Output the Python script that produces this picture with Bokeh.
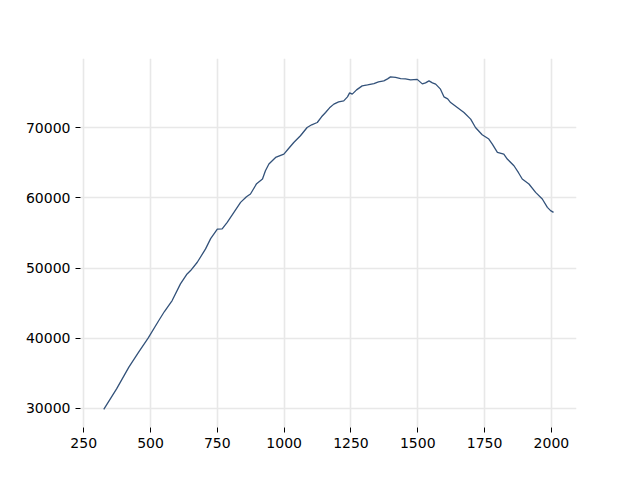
from bokeh.plotting import figure
from bokeh.models import Range1d, FixedTicker
from bokeh.embed import file_html
from bokeh.resources import INLINE

x_vals = [325, 373, 419, 455, 491, 531, 552, 581, 612, 635, 650, 675, 706, 725, 750, 768, 787,
          812, 837, 859, 874, 897, 919, 930, 943, 968, 999, 1016, 1036, 1061, 1086, 1103, 1124,
          1140, 1155, 1170, 1186, 1204, 1223, 1237, 1245, 1255, 1271, 1292, 1312, 1336, 1353,
          1373, 1387, 1398, 1417, 1436, 1454, 1473, 1498, 1517, 1529, 1542, 1555, 1567, 1585,
          1598, 1612, 1623, 1648, 1673, 1698, 1716, 1741, 1766, 1779, 1798, 1822, 1835, 1860,
          1877, 1891, 1916, 1941, 1966, 1985, 1997, 2008]
y_vals = [29858, 32776, 35879, 37972, 40007, 42527, 43808, 45374, 47751, 49075, 49644, 50826,
          52733, 54200, 55552, 55580, 56520, 57943, 59367, 60178, 60562, 62029, 62698, 63879,
          64833, 65773, 66257, 67011, 67908, 68862, 70043, 70427, 70755, 71566, 72178, 72847,
          73374, 73701, 73844, 74413, 74983, 74798, 75410, 75979, 76121, 76306, 76548, 76691,
          76976, 77260, 77189, 77018, 76976, 76833, 76904, 76264, 76406, 76691, 76406, 76221,
          75509, 74413, 74129, 73602, 72890, 72178, 71239, 70043, 69004, 68392, 67680, 66484,
          66257, 65545, 64591, 63595, 62698, 61986, 60790, 59851, 58655, 58185, 57943]

x_ticks = [250, 500, 750, 1000, 1250, 1500, 1750, 2000]
y_ticks = [30000, 40000, 50000, 60000, 70000]

p = figure(width=624, height=464, output_backend="svg", toolbar_location=None,
           x_range=Range1d(238, 2094), y_range=Range1d(27270, 79880),
           min_border_left=80, min_border_right=48, min_border_top=58, min_border_bottom=37)
p.outline_line_color = None
p.background_fill_color = "white"
p.border_fill_color = "white"

p.line(x_vals, y_vals, line_color="#33527a", line_width=1.3)

for ax in (p.xaxis[0], p.yaxis[0]):
    ax.axis_line_color = None
    ax.major_tick_line_color = "black"
    ax.major_tick_out = 5
    ax.major_tick_in = 0
    ax.minor_tick_line_color = None
    ax.major_label_text_font = "DejaVu Sans"
    ax.major_label_text_font_size = "14px"
    ax.major_label_text_color = "black"
    ax.major_label_standoff = 5

p.xaxis[0].ticker = FixedTicker(ticks=x_ticks)
p.yaxis[0].ticker = FixedTicker(ticks=y_ticks)
p.yaxis[0].formatter.use_scientific = False

p.xgrid[0].ticker = FixedTicker(ticks=x_ticks)
p.ygrid[0].ticker = FixedTicker(ticks=y_ticks)
for g in (p.xgrid[0], p.ygrid[0]):
    g.grid_line_color = "#e8e8e8"
    g.grid_line_width = 1.6

open("out.html", "w").write(file_html(p, INLINE))
